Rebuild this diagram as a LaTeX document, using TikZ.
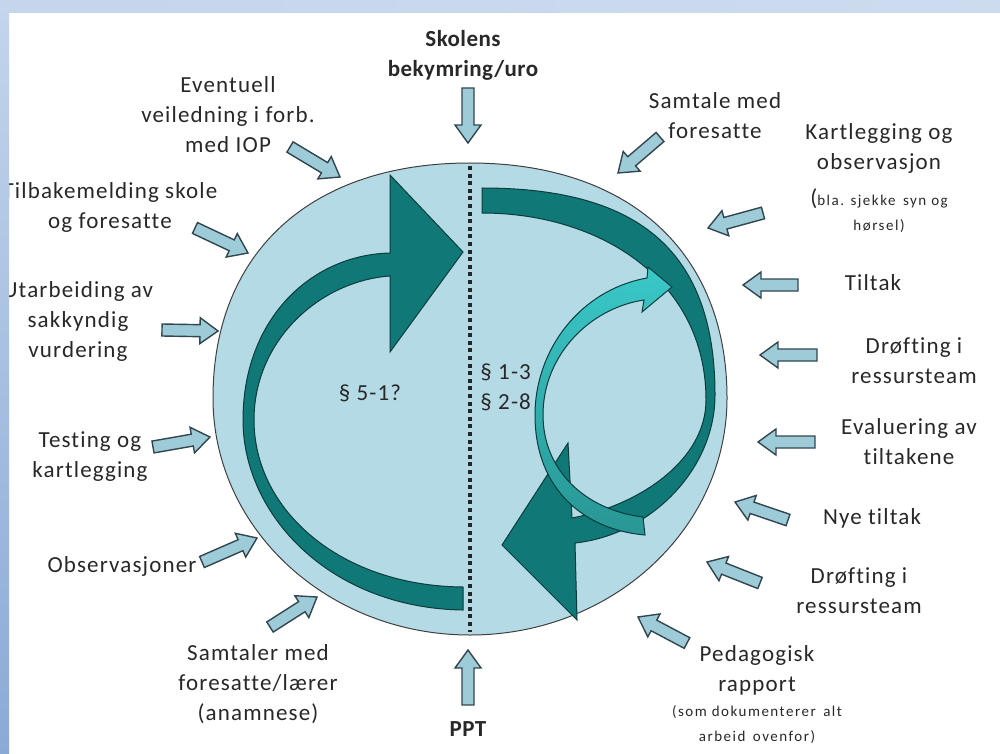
\documentclass[tikz,border=0pt]{standalone}
\usepackage{fontspec}
\setmainfont{Carlito}[LetterSpace=5, Ligatures=CommonOff]
\usetikzlibrary{calc}
\definecolor{txt}{RGB}{40,40,40}
\definecolor{disc}{RGB}{180,218,230}
\definecolor{darkteal}{RGB}{16,120,118}
\definecolor{tealline}{RGB}{10,60,60}
\definecolor{cyanA}{RGB}{58,200,200}
\definecolor{cyanB}{RGB}{40,150,148}
\definecolor{arrfill}{RGB}{158,203,216}
\definecolor{arrline}{RGB}{50,70,80}
\definecolor{bgA}{RGB}{196,213,236}
\definecolor{bgB}{RGB}{138,170,214}
\newcommand\blockarrow[2]{%
  \coordinate (#1h) at ($(#2)!9pt!(#1)$);
  \draw[smallarrow] ($(#1)!3pt!90:(#2)$) -- ($(#1h)!3pt!90:(#2)$) -- ($(#1h)!6.5pt!90:(#2)$) -- (#2)
    -- ($(#1h)!6.5pt!-90:(#2)$) -- ($(#1h)!3pt!-90:(#2)$) -- ($(#1)!3pt!-90:(#2)$) -- cycle;}
\begin{document}
\begin{tikzpicture}[x=0.5pt,y=-0.5pt,
  lbl/.style={font=\fontsize{11.5}{15}\selectfont, text=txt, align=center, inner sep=0pt},
  bld/.style={font=\fontsize{11.5}{15}\selectfont\bfseries\addfontfeatures{LetterSpace=2}, text=txt, align=center, inner sep=0pt},
  sm/.style={font=\fontsize{7.5}{12.5}\selectfont\addfontfeatures{LetterSpace=10}, text=txt, align=center, inner sep=0pt},
  smallarrow/.style={fill=arrfill, draw=arrline, line width=0.7pt, line join=miter},
  bigarrow/.style={fill=darkteal, draw=tealline, line width=0.5pt, line join=miter},
  cyanarrow/.style={top color=cyanA, bottom color=cyanB, draw=tealline, line width=0.5pt, line join=miter},
  dotline/.style={draw=black!85, line width=2pt, dash pattern=on 2pt off 1.8pt},
  disk/.style={fill=disc, draw=black!75, line width=0.5pt}]
\useasboundingbox (0,0) rectangle (1000,754);
\fill[white] (0,0) rectangle (1000,754);

% main disc
\path[disk] (213,398) .. controls (213,252) and (311,163) .. (470,163)
  .. controls (629,163) and (727,252) .. (727,398)
  .. controls (727,529) and (612,635) .. (470,635)
  .. controls (328,635) and (213,529) .. (213,398) -- cycle;

% left big arrow
\path[bigarrow] (463,610) .. controls (330,608) and (243,515) .. (243,420)
  .. controls (243,320) and (310,255) .. (390,253) -- (390,175) -- (463,252) -- (390,352) -- (390,276)
  .. controls (320,281) and (254,340) .. (254,420)
  .. controls (254,510) and (340,586) .. (463,587) -- cycle;

% right big arrow
\path[bigarrow] (482,188) .. controls (632,188) and (715,245) .. (715,395)
  .. controls (715,470) and (650,535) .. (575,543) -- (577,620) -- (502,545) -- (568,443) -- (572,518)
  .. controls (640,505) and (706,460) .. (706,400)
  .. controls (706,280) and (600,213) .. (482,213) -- cycle;

% cyan arrow
\shadedraw[cyanarrow] (645,535) .. controls (585,530) and (535,490) .. (535,415)
  .. controls (535,350) and (580,290) .. (647,278) -- (648,267) -- (672,287) -- (642,312) -- (644,300)
  .. controls (590,308) and (543,355) .. (543,415)
  .. controls (543,470) and (585,510) .. (643,517) -- cycle;

% dotted divider
\coordinate (dTop) at (470,166);
\coordinate (dBot) at (470,632);
\draw[dotline] (dTop) -- (dBot);

% labels inside
\node[lbl] (p51) at (370,393) {§ 5-1?};
\node[lbl, anchor=west, align=left] (p13) at (480,387) {§ 1-3\\§ 2-8};

% outer labels
\node[bld] (skolens) at (463,55) {Skolens\\bekymring/uro};
\node[bld] (ppt) at (468,729) {PPT};
\node[lbl] (eventuell) at (228,115) {Eventuell\\veiledning i forb.\\med IOP};
\node[lbl] (tilbake) at (110,207) {Tilbakemelding skole\\og foresatte};
\node[lbl] (utarb) at (78,321) {Utarbeiding av\\sakkyndig\\vurdering};
\node[lbl] (testing) at (90,457) {Testing og\\kartlegging};
\node[lbl] (observ) at (122,566) {Observasjoner};
\node[lbl] (samtaler) at (258,684) {Samtaler med\\foresatte/lærer\\(anamnese)};
\node[lbl] (samtale) at (715,116) {Samtale med\\foresatte};
\node[lbl] (kart) at (879,148) {Kartlegging og\\observasjon};
\node[sm] (kartsm) at (879,211) {{\fontsize{11.5}{12}\selectfont(}bla. sjekke\enspace syn og\\hørsel)};
\node[lbl] (tiltak) at (873,283) {Tiltak};
\node[lbl] (drof1) at (914,361) {Drøfting i\\ressursteam};
\node[lbl] (eval) at (909,442) {Evaluering av\\tiltakene};
\node[lbl] (nye) at (872,518) {Nye tiltak};
\node[lbl] (drof2) at (859,591) {Drøfting i\\ressursteam};
\node[lbl] (ped) at (757,670) {Pedagogisk\\rapport};
\node[sm] (pedsm) at (757,725) {(som dokumenterer\enspace alt\\arbeid\enspace ovenfor)};

% small block arrows (tail, tip)
\coordinate (aTop) at (468,88);   \coordinate (aTopE) at (468,143);
\coordinate (aPpt) at (468,705);  \coordinate (aPptE) at (468,650);
\coordinate (aEv) at (290,147);   \coordinate (aEvE) at (340,177);
\coordinate (aTb) at (195,228);   \coordinate (aTbE) at (248,253);
\coordinate (aUt) at (162,330);   \coordinate (aUtE) at (218,331);
\coordinate (aTe) at (153,447);   \coordinate (aTeE) at (210,437);
\coordinate (aOb) at (202,562);   \coordinate (aObE) at (257,538);
\coordinate (aSr) at (270,627);   \coordinate (aSrE) at (317,597);
\coordinate (aSm) at (660,137);   \coordinate (aSmE) at (618,173);
\coordinate (aKa) at (763,213);   \coordinate (aKaE) at (708,228);
\coordinate (aTi) at (798,285);   \coordinate (aTiE) at (743,285);
\coordinate (aD1) at (817,355);   \coordinate (aD1E) at (760,355);
\coordinate (aEl) at (815,442);   \coordinate (aElE) at (758,442);
\coordinate (aNy) at (788,520);   \coordinate (aNyE) at (735,502);
\coordinate (aD2) at (760,583);   \coordinate (aD2E) at (707,562);
\coordinate (aPe) at (687,643);   \coordinate (aPeE) at (638,617);
\blockarrow{aTop}{aTopE}
\blockarrow{aPpt}{aPptE}
\blockarrow{aEv}{aEvE}
\blockarrow{aTb}{aTbE}
\blockarrow{aUt}{aUtE}
\blockarrow{aTe}{aTeE}
\blockarrow{aOb}{aObE}
\blockarrow{aSr}{aSrE}
\blockarrow{aSm}{aSmE}
\blockarrow{aKa}{aKaE}
\blockarrow{aTi}{aTiE}
\blockarrow{aD1}{aD1E}
\blockarrow{aEl}{aElE}
\blockarrow{aNy}{aNyE}
\blockarrow{aD2}{aD2E}
\blockarrow{aPe}{aPeE}

% frame strips
\shade[top color=bgA, bottom color=bgB] (0,0) rectangle (9,754);
\shade[left color=bgA, right color=bgA!85!white] (0,0) rectangle (1000,13);
\end{tikzpicture}
\end{document}
